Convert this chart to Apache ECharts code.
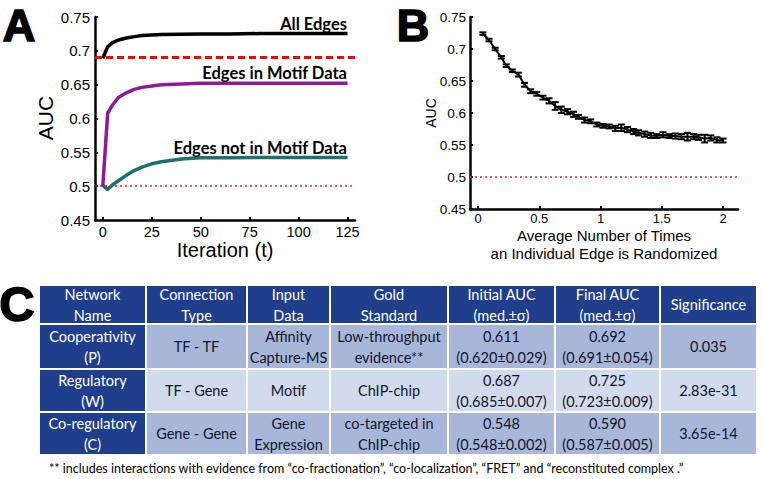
<!DOCTYPE html>
<html><head><meta charset="utf-8">
<script src="https://cdn.jsdelivr.net/npm/echarts@6/dist/echarts.min.js"></script>
<style>html,body{margin:0;padding:0;background:#fff}#c{width:762px;height:479px}</style>
</head><body><div id="c"></div>
<script>
// ---------- Panel A data ----------
const iterT         = [0, 2.5, 5, 8, 12, 16, 20, 25, 30, 40, 50, 65, 80, 100, 125];
const allEdgesAUC   = [0.689, 0.706, 0.712, 0.716, 0.719, 0.721, 0.7225, 0.7235, 0.724, 0.7245, 0.725, 0.725, 0.7255, 0.7255, 0.7255];
const motifEdgesAUC = [0.500, 0.608, 0.620, 0.631, 0.638, 0.643, 0.646, 0.648, 0.650, 0.651, 0.652, 0.652, 0.652, 0.652, 0.652];
const nonMotifAUC   = [0.501, 0.495, 0.502, 0.508, 0.516, 0.523, 0.528, 0.533, 0.536, 0.540, 0.542, 0.542, 0.5425, 0.5425, 0.5425];
const motifOnlyLine = 0.687;
const randomLine    = 0.5;
const xTicksA = [0, 25, 50, 75, 100, 125];
const yTicks  = [0.45, 0.5, 0.55, 0.6, 0.65, 0.7, 0.75];
const curveLabels = ['All Edges', 'Edges in Motif Data', 'Edges not in Motif Data'];

// ---------- Panel B data ----------
const randTimes = [0.04, 0.09, 0.14, 0.19, 0.23, 0.28, 0.33, 0.38, 0.43, 0.48, 0.53, 0.58, 0.63, 0.68, 0.73, 0.78, 0.82, 0.87, 0.92, 0.97, 1.02, 1.07, 1.12, 1.17, 1.22, 1.27, 1.31, 1.36, 1.41, 1.46, 1.51, 1.56, 1.61, 1.66, 1.71, 1.76, 1.80, 1.85, 1.90, 1.95, 2.00];
const randAUC   = [0.724, 0.714, 0.700, 0.687, 0.674, 0.666, 0.660, 0.644, 0.634, 0.630, 0.624, 0.619, 0.611, 0.605, 0.602, 0.598, 0.594, 0.589, 0.587, 0.582, 0.580, 0.579, 0.576, 0.577, 0.574, 0.571, 0.569, 0.567, 0.565, 0.564, 0.566, 0.564, 0.564, 0.563, 0.563, 0.563, 0.562, 0.560, 0.561, 0.558, 0.557];
const randErr   = [0.002, 0.002, 0.002, 0.002, 0.002, 0.002, 0.003, 0.003, 0.003, 0.003, 0.003, 0.004, 0.006, 0.005, 0.004, 0.004, 0.003, 0.004, 0.003, 0.003, 0.003, 0.003, 0.004, 0.005, 0.004, 0.004, 0.004, 0.004, 0.004, 0.003, 0.004, 0.003, 0.004, 0.004, 0.006, 0.004, 0.004, 0.006, 0.004, 0.004, 0.003];
const xTicksB = [0, 0.5, 1, 1.5, 2];

// ---------- Panel C table ----------
const tableHeader      = ['Network\nName', 'Connection\nType', 'Input\nData', 'Gold\nStandard', 'Initial AUC\n(med.±σ)', 'Final AUC\n(med.±σ)', 'Significance'];
const rowCooperativity = ['Cooperativity\n(P)', 'TF - TF', 'Affinity\nCapture-MS', 'Low-throughput\nevidence**', '0.611\n(0.620±0.029)', '0.692\n(0.691±0.054)', '0.035'];
const rowRegulatory    = ['Regulatory\n(W)', 'TF - Gene', 'Motif', 'ChIP-chip', '0.687\n(0.685±0.007)', '0.725\n(0.723±0.009)', '2.83e-31'];
const rowCoregulatory  = ['Co-regulatory\n(C)', 'Gene - Gene', 'Gene\nExpression', 'co-targeted in\nChIP-chip', '0.548\n(0.548±0.002)', '0.590\n(0.587±0.005)', '3.65e-14'];
const footnote = '** includes interactions with evidence from \u201cco-fractionation\u201d, \u201cco-localization\u201d, \u201cFRET\u201d and \u201creconstituted complex .\u201d';

// ---------- build ----------
const zip = (a, b) => a.map((v, i) => [v, b[i]]);
const fmt = v => String(parseFloat(Number(v).toFixed(2)));
const ARIAL = '"Liberation Sans", Arial, sans-serif';
const LATO = 'Lato, "Noto Sans", sans-serif';

function txt(x, y, text, opts) {
  opts = opts || {};
  const st = Object.assign({
    text: text, x: 0, y: 0, fill: '#000',
    font: opts.font || ('15px ' + ARIAL),
    align: opts.align || 'center', textAlign: opts.align || 'center',
    verticalAlign: opts.va || 'middle', textVerticalAlign: opts.va || 'middle'
  }, opts.style || {});
  return { type: 'text', x: x, y: y, rotation: opts.rotation || 0, style: st, z: 100 };
}

const g = [];
// panel letters
const letterStyle = {stroke: '#000', lineWidth: 1.6, lineHeight: 34};
g.push(txt(19, 25, 'A', {font: 'bold 45px ' + ARIAL, style: letterStyle}));
g.push(txt(413, 25, 'B', {font: 'bold 45px ' + ARIAL, style: letterStyle}));
g.push(txt(17, 304, 'C', {font: 'bold 49px ' + ARIAL, style: letterStyle}));
// curve labels
const curveLabelY = [24, 73, 148];
curveLabels.forEach((t, i) => g.push(txt(347, curveLabelY[i], t, {font: 'bold 16.5px ' + LATO, align: 'right'})));
// axis titles
g.push(txt(45, 118, 'AUC', {font: '21px ' + ARIAL, rotation: Math.PI / 2}));
g.push(txt(225, 250, 'Iteration (t)', {font: '20px ' + ARIAL}));
g.push(txt(431, 113, 'AUC', {font: '14px ' + ARIAL, rotation: Math.PI / 2}));
g.push(txt(604, 235, 'Average Number of Times', {font: '15px ' + ARIAL}));
g.push(txt(604, 253, 'an Individual Edge is Randomized', {font: '15px ' + ARIAL}));

// table
const colEdges = [39, 146, 247, 330, 448, 555, 660, 757];
const rowEdges = [285, 324, 369, 412, 455];
const DARK = '#1F3E8C', LIGHT1 = '#A8B6DA', LIGHT2 = '#D2DAED';
const tableRows = [tableHeader, rowCooperativity, rowRegulatory, rowCoregulatory];
tableRows.forEach((row, r) => {
  row.forEach((cell, c) => {
    const x0 = colEdges[c], x1 = colEdges[c + 1], y0 = rowEdges[r], y1 = rowEdges[r + 1];
    const dark = (r === 0 || c === 0);
    const fill = dark ? DARK : (r === 2 ? LIGHT2 : LIGHT1);
    g.push({type: 'rect', shape: {x: x0, y: y0, width: x1 - x0, height: y1 - y0},
            style: {fill: fill, stroke: '#fff', lineWidth: 2}, z: 90});
    g.push(txt((x0 + x1) / 2, (y0 + y1) / 2, cell, {font: '14.5px ' + LATO,
      style: {fill: dark ? '#fff' : '#10162a', lineHeight: 21}}));
  });
});
g.push(txt(49, 468, footnote, {font: '12.5px ' + LATO, align: 'left'}));

const axisLine = {show: true, onZero: false, lineStyle: {color: '#000', width: 2.5}};
const option = {
  animation: false,
  backgroundColor: '#fff',
  grid: [
    {left: 95, top: 17, width: 260, height: 203},
    {left: 470, top: 17, width: 268, height: 192}
  ],
  xAxis: [
    {type: 'value', gridIndex: 0, min: -3.98, max: 128.8, axisLine: axisLine, splitLine: {show: false},
     axisTick: {show: true, inside: true, length: 3, customValues: xTicksA, lineStyle: {color: '#000', width: 2}},
     axisLabel: {customValues: xTicksA, color: '#000', fontSize: 14.5, fontFamily: ARIAL, margin: 4}},
    {type: 'value', gridIndex: 1, min: -0.0653, max: 2.122, axisLine: axisLine, splitLine: {show: false},
     axisTick: {show: true, inside: true, length: 3, customValues: xTicksB, lineStyle: {color: '#000', width: 2}},
     axisLabel: {customValues: xTicksB, color: '#000', fontSize: 13, fontFamily: ARIAL, margin: 3, formatter: fmt}}
  ],
  yAxis: [
    {type: 'value', gridIndex: 0, min: 0.45, max: 0.75, axisLine: axisLine, splitLine: {show: false},
     axisTick: {show: true, inside: true, length: 3, customValues: yTicks, lineStyle: {color: '#000', width: 2}},
     axisLabel: {customValues: yTicks, color: '#000', fontSize: 15, fontFamily: ARIAL, margin: 5, formatter: fmt}},
    {type: 'value', gridIndex: 1, min: 0.45, max: 0.75, axisLine: axisLine, splitLine: {show: false},
     axisTick: {show: true, inside: true, length: 3, customValues: yTicks, lineStyle: {color: '#000', width: 2}},
     axisLabel: {customValues: yTicks, color: '#000', fontSize: 13.5, fontFamily: ARIAL, margin: 4, formatter: fmt}}
  ],
  series: [
    {type: 'line', xAxisIndex: 0, yAxisIndex: 0, data: zip(iterT, nonMotifAUC), showSymbol: false,
     lineStyle: {color: '#1C7070', width: 3.5}, z: 3,
     markLine: {silent: true, symbol: 'none', label: {show: false},
       data: [{yAxis: randomLine}], lineStyle: {color: '#E8262A', width: 1.5, type: [2, 3]}}},
    {type: 'line', xAxisIndex: 0, yAxisIndex: 0, data: zip(iterT, motifEdgesAUC), showSymbol: false,
     lineStyle: {color: '#8E1A99', width: 3.5}, z: 3},
    {type: 'line', xAxisIndex: 0, yAxisIndex: 0, data: zip(iterT, allEdgesAUC), showSymbol: false,
     lineStyle: {color: '#000', width: 3.5}, z: 3,
     markLine: {silent: true, symbol: 'none', label: {show: false},
       data: [{yAxis: motifOnlyLine}], lineStyle: {color: '#FF0000', width: 3, type: [7, 4]}}},
    {type: 'line', xAxisIndex: 1, yAxisIndex: 1, data: zip(randTimes, randAUC), showSymbol: false,
     lineStyle: {color: '#000', width: 2}, z: 3,
     markLine: {silent: true, symbol: 'none', label: {show: false},
       data: [{yAxis: randomLine}], lineStyle: {color: '#E8262A', width: 1.5, type: [2, 3]}}},
    {type: 'custom', xAxisIndex: 1, yAxisIndex: 1, z: 4,
     data: randTimes.map((x, i) => [x, randAUC[i] - randErr[i], randAUC[i] + randErr[i]]),
     renderItem: function (params, api) {
       const lo = api.coord([api.value(0), api.value(1)]);
       const hi = api.coord([api.value(0), api.value(2)]);
       const w = 3.5, st = {stroke: '#000', lineWidth: 2};
       return {type: 'group', children: [
         {type: 'line', shape: {x1: lo[0], y1: lo[1], x2: hi[0], y2: hi[1]}, style: st},
         {type: 'line', shape: {x1: lo[0] - w, y1: lo[1], x2: lo[0] + w, y2: lo[1]}, style: st},
         {type: 'line', shape: {x1: hi[0] - w, y1: hi[1], x2: hi[0] + w, y2: hi[1]}, style: st}
       ]};
     }}
  ],
  graphic: {elements: g}
};
const chart = echarts.init(document.getElementById('c'), null, {renderer: 'svg', width: 762, height: 479});
chart.setOption(option);
</script></body></html>
